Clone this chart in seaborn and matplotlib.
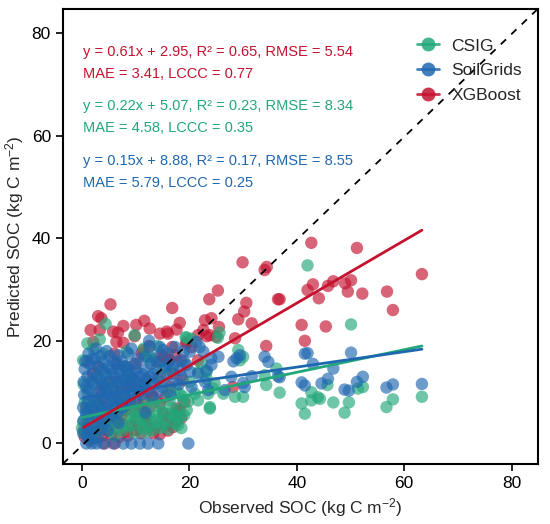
import numpy as np
import pandas as pd
import matplotlib
matplotlib.use("Agg")
import matplotlib.pyplot as plt
from matplotlib.lines import Line2D
import seaborn as sns

sns.set_style("ticks")
plt.rcParams["font.family"] = ["Liberation Sans", "DejaVu Sans"]
plt.rcParams["mathtext.fontset"] = "custom"
plt.rcParams["mathtext.rm"] = "Liberation Sans"
plt.rcParams["mathtext.it"] = "Liberation Sans:italic"

# colours per product
colors = {"CSIG": "#22a77a", "SoilGrids": "#1f68b0", "XGBoost": "#c4122f"}

# XGBoost predictions (observed, predicted)
xgb_obs = [0.5, 1.5, 2.7, 4.5, 6.4, 8.3, 10.1, 12.6, 15.7, 17.6, 7.0, 13.3, 1.5, 3.3, 12.0, 15.1,
           17.6, 19.1, 4.2, 6.1, 9.5, 11.4, 14.5, 18.2, 16.3, 2.0, 5.0, 7.5, 10.0, 0.8, 3.5, 6.5,
           9.0, 11.5, 13.0, 4.5, 5.8, 8.3, 10.5, 13.3, 16.4, 13.9, 15.4, 17.3, 8.3, 9.8, 8.9, 17.0,
           18.8, 16.3, 18.5, 14.8, 11.1, 2.0, 1.0, 3.0, 6.5, 2.1, 6.4, 9.8, 5.8, 5.3, 16.8, 3.0,
           3.6, 1.6, 3.3, 6.7, 7.7, 11.6, 18.2, 7.7, 11.4, 14.5, 15.8, 17.6, 10.1, 12.6, 16.0, 22.9,
           24.1, 22.6, 23.8, 19.5, 21.6, 16.8, 19.4, 29.9, 34.4, 34.0, 25.3, 23.7, 30.6, 36.5, 36.8, 30.2,
           29.1, 31.6, 25.5, 23.2, 25.0, 28.5, 34.3, 20.4, 21.6, 40.9, 41.5, 42.0, 28.1, 42.7, 51.2, 63.3,
           43.0, 45.8, 46.8, 49.0, 50.1, 49.5, 52.2, 44.1, 56.8, 57.9, 45.4,
           0.3, 1.0, 2.2, 3.0, 3.8, 5.5, 6.0, 7.5, 8.5, 9.3, 11.0, 11.8, 13.8, 14.5, 16.0, 17.0,
           18.5, 2.5, 4.5, 8.0, 10.5, 12.5, 15.5, 7.0, 12.0, 14.5, 3.5, 10.0, 6.0, 12.5]
xgb_pred = [1.3, 0.6, 2.0, 2.6, 3.0, 2.3, 2.6, 3.2, 3.6, 4.2, 1.3, 2.0, 3.2, 4.2, 5.2, 5.8,
            6.8, 8.1, 0.0, 0.0, 6.5, 6.5, 7.8, 6.5, 5.2, 5.5, 5.0, 5.5, 4.5, 7.0, 8.5, 9.0,
            8.0, 8.5, 9.5, 11.7, 12.0, 11.4, 10.4, 9.1, 11.0, 15.9, 16.9, 17.2, 14.3, 12.3, 11.7, 13.6,
            12.3, 16.2, 16.2, 17.2, 17.5, 13.5, 16.0, 15.0, 15.5, 19.8, 19.8, 20.9, 21.8, 27.1, 26.4, 24.8,
            24.4, 22.1, 22.1, 21.6, 22.9, 23.9, 23.5, 19.6, 18.2, 21.4, 21.8, 22.2, 23.1, 22.4, 21.4, 24.0,
            24.4, 22.1, 21.1, 19.8, 21.1, 18.8, 19.5, 35.3, 34.4, 33.8, 29.8, 28.1, 27.4, 28.1, 28.1, 25.7,
            24.2, 23.4, 22.7, 20.9, 20.8, 20.5, 19.0, 18.8, 16.2, 23.1, 20.0, 29.9, 11.0, 39.1, 38.1, 33.0,
            31.0, 30.7, 31.6, 31.2, 31.8, 29.6, 29.2, 28.3, 29.6, 26.0, 22.8,
            2.5, 4.5, 1.0, 3.0, 1.5, 1.8, 4.5, 3.8, 1.5, 3.5, 2.0, 4.0, 3.5, 1.8, 2.5, 3.2,
            5.0, 6.5, 7.0, 6.5, 7.5, 7.0, 9.0, 10.0, 12.5, 13.0, 10.5, 15.5, 17.5, 19.0]

# CSIG predictions
csig_obs = [0.0, 0.2, 1.5, 0.8, 1.5, 2.5, 3.3, 3.9, 5.2, 5.8, 7.0, 7.0, 8.3, 9.0, 10.1, 10.8,
            11.4, 12.0, 12.0, 12.6, 13.6, 13.9, 14.5, 14.5, 15.1, 15.1, 16.3, 16.4, 17.0, 17.6, 17.9, 17.9,
            18.2, 18.8, 19.5, 18.2, 19.8, 18.8, 0.2, 3.9, 8.3, 12.0, 12.6, 6.4, 5.2, 2.1, 3.3, 4.4,
            9.8, 13.0, 19.3, 1.0, 2.5, 4.0, 9.0, 11.0, 14.5, 16.0, 7.5, 0.5, 3.0, 10.0, 6.0, 1.0,
            14.0, 16.5, 20.1, 21.0, 21.6, 22.3, 23.2, 23.8, 24.7, 25.3, 25.6, 19.5, 20.4, 29.1, 30.0, 29.4,
            36.2, 34.3, 36.8, 21.6, 23.2, 24.4, 23.5, 28.5, 30.0, 23.8, 26.3, 40.9, 41.5, 42.0, 50.1, 34.0,
            42.7, 42.7, 43.9, 44.3, 45.7, 46.8, 48.9, 49.7, 51.4, 52.3, 56.7, 57.9, 63.3,
            0.5, 1.0, 2.0, 2.2, 3.0, 4.0, 4.5, 5.5, 6.0, 6.5, 7.5, 8.0, 8.5, 9.5, 9.8, 10.5,
            11.0, 11.8, 12.5, 13.0, 14.0, 15.5, 16.0, 16.8, 17.3, 18.5, 19.0, 2.0, 4.5, 8.0, 11.5, 15.0,
            17.5, 0.3, 13.5]
csig_pred = [3.0, 4.2, 4.9, 5.8, 1.6, 3.5, 5.5, 4.2, 2.6, 4.2, 3.0, 6.5, 5.2, 3.5, 4.9, 4.6,
             3.0, 4.9, 7.8, 3.3, 4.2, 4.6, 3.0, 7.1, 3.6, 6.1, 8.4, 5.8, 5.2, 5.2, 3.6, 6.5,
             9.7, 8.4, 6.5, 5.2, 8.2, 9.1, 16.2, 17.5, 17.9, 16.9, 16.9, 11.7, 9.7, 18.4, 20.3, 23.3,
             21.1, 16.2, 20.7, 10.0, 12.5, 14.0, 13.0, 10.5, 12.0, 10.0, 9.0, 8.0, 7.5, 7.0, 8.0, 19.5,
             19.0, 14.0, 12.0, 9.7, 8.4, 15.6, 14.0, 7.1, 11.7, 20.6, 21.6, 20.6, 20.4, 18.2, 16.9, 16.2,
             14.6, 11.4, 9.9, 13.9, 12.6, 10.7, 9.7, 9.1, 9.1, 6.8, 9.7, 7.8, 5.8, 34.7, 23.2, 13.3,
             10.0, 8.4, 9.0, 8.7, 11.4, 8.0, 6.0, 8.0, 10.7, 11.0, 7.1, 8.6, 9.1,
             2.0, 6.5, 1.0, 5.0, 2.5, 6.0, 3.5, 5.5, 1.5, 4.5, 2.5, 7.0, 3.5, 5.5, 2.0, 6.0,
             3.5, 2.2, 6.0, 2.5, 5.5, 4.5, 2.8, 7.0, 4.0, 3.0, 5.5, 8.5, 12.0, 15.0, 18.5, 14.5,
             10.5, 11.5, 8.0]

# SoilGrids predictions
sg_obs = [0.2, 0.3, 0.2, 0.4, 0.3, 0.5, 0.6, 1.0, 1.2, 1.1, 1.3, 1.0, 1.4, 1.2, 2.0, 2.2,
          2.0, 2.4, 2.1, 2.3, 2.6, 3.0, 3.2, 3.1, 3.4, 3.0, 3.5, 4.0, 4.2, 4.1, 4.4, 4.0,
          4.6, 5.0, 5.3, 5.1, 5.4, 5.2, 6.0, 6.2, 6.1, 6.4, 6.7, 7.0, 7.3, 7.1, 7.4, 8.0,
          8.2, 8.1, 8.4, 8.6, 9.0, 9.2, 9.1, 9.2, 10.0, 10.2, 10.1, 10.4, 11.0, 11.3, 11.7, 11.2,
          12.0, 12.6, 12.6, 12.5, 13.0, 13.6, 13.4, 14.0, 14.5, 14.3, 15.1, 15.8, 15.0, 16.0, 16.5, 17.0,
          17.3, 18.2, 18.0, 19.0, 19.5, 20.1, 20.4, 21.6, 20.1, 21.3, 21.9, 22.6, 22.9, 24.1, 25.4, 24.1,
          23.2, 27.8, 31.6, 30.0, 30.3, 26.6, 23.5, 28.8, 29.4, 28.2, 34.0, 34.7, 36.5, 40.9, 41.5, 41.5,
          42.0, 50.1, 43.0, 46.8, 36.8, 44.6, 45.8, 48.9, 49.7, 51.2, 52.3, 56.7, 57.9, 63.3, 1.8, 2.7,
          3.9, 5.8, 7.7, 9.2, 10.8, 12.3, 14.2, 19.8, 1.0, 0.8, 2.9, 4.8, 6.8, 11.8,
          0.7, 0.8, 1.6, 1.7, 1.8, 1.9, 2.8, 2.9, 2.7, 3.6, 3.8, 3.7, 3.9, 3.8, 4.7, 4.8,
          4.6, 4.9, 5.6, 5.7, 5.8, 5.6, 5.9, 6.6, 6.5, 6.8, 6.9, 7.6, 7.8, 7.7, 7.8, 8.6,
          8.8, 8.7, 9.5, 9.6, 9.7, 10.5, 10.7, 11.5, 11.6, 12.2, 12.8, 13.2, 13.8, 14.6, 15.5, 16.0,
          16.8, 17.8, 18.5, 19.0]
sg_pred = [2.0, 4.5, 7.0, 9.5, 12.0, 14.5, 16.0, 3.0, 5.5, 8.0, 10.5, 13.0, 15.5, 17.5, 2.5, 6.5,
           9.0, 11.5, 14.0, 16.5, 18.5, 4.0, 7.5, 10.0, 12.5, 15.0, 17.0, 5.5, 8.5, 11.0, 13.5, 16.0,
           18.0, 6.5, 9.5, 12.0, 14.5, 17.0, 7.0, 10.0, 13.0, 15.5, 17.2, 8.0, 11.0, 13.5, 16.0, 7.5,
           10.5, 12.5, 15.0, 17.5, 9.0, 11.5, 14.0, 18.5, 8.5, 12.0, 14.3, 16.5, 9.5, 11.0, 16.9, 13.5,
           10.5, 13.0, 18.8, 20.0, 9.0, 16.6, 11.5, 12.5, 18.8, 10.0, 18.2, 13.3, 11.0, 15.5, 9.5, 14.9,
           18.8, 14.3, 11.5, 16.0, 15.3, 14.0, 11.0, 13.6, 17.9, 19.8, 18.8, 17.9, 12.0, 16.6, 16.9, 15.3,
           14.3, 13.0, 13.1, 11.8, 11.0, 10.4, 10.4, 16.6, 17.2, 16.0, 16.9, 15.9, 13.1, 11.9, 11.3, 17.5,
           17.6, 17.7, 15.5, 14.6, 12.9, 11.7, 12.6, 10.5, 10.3, 12.0, 13.0, 10.9, 11.5, 11.6, 0.0, 0.0,
           0.0, 0.0, 0.0, 0.0, 0.0, 0.0, 0.0, 0.0, 1.5, 0.0, 1.2, 2.5, 4.0, 6.0,
           6.0, 11.0, 2.0, 7.0, 12.0, 16.5, 5.0, 8.5, 13.0, 3.0, 6.5, 9.5, 11.5, 14.5, 4.5, 7.5,
           10.0, 15.0, 5.5, 8.5, 11.0, 13.5, 16.0, 6.0, 8.5, 12.0, 14.5, 7.0, 9.5, 12.5, 15.0, 8.5,
           11.5, 13.5, 10.0, 12.5, 15.5, 10.0, 13.0, 11.5, 14.5, 12.0, 15.5, 13.5, 14.5, 16.0, 15.0, 17.5,
           12.0, 16.0, 13.0, 18.0]

# fitted lines and metrics as printed on the chart
fit_slope = {"XGBoost": 0.61, "CSIG": 0.22, "SoilGrids": 0.15}
fit_icpt = {"XGBoost": 2.95, "CSIG": 5.07, "SoilGrids": 8.88}
stats_lines = [
    ("XGBoost", "y = 0.61x + 2.95, R² = 0.65, RMSE = 5.54", "MAE = 3.41, LCCC = 0.77"),
    ("CSIG", "y = 0.22x + 5.07, R² = 0.23, RMSE = 8.34", "MAE = 4.58, LCCC = 0.35"),
    ("SoilGrids", "y = 0.15x + 8.88, R² = 0.17, RMSE = 8.55", "MAE = 5.79, LCCC = 0.25"),
]

df = pd.concat([
    pd.DataFrame({"obs": xgb_obs, "pred": xgb_pred, "model": "XGBoost"}),
    pd.DataFrame({"obs": csig_obs, "pred": csig_pred, "model": "CSIG"}),
    pd.DataFrame({"obs": sg_obs, "pred": sg_pred, "model": "SoilGrids"}),
], ignore_index=True)

fig = plt.figure(figsize=(5.5, 5.24), dpi=100)
ax = fig.add_axes([0.114, 0.1145, 0.864, 0.8687])

sns.scatterplot(data=df, x="obs", y="pred", hue="model", palette=colors,
                s=80, alpha=0.65, linewidth=0, legend=False, ax=ax, zorder=2)

ax.plot([-3.6, 84.9], [-4.0, 84.7], color="black", ls=(0, (4, 4)), lw=1.3, zorder=3)

for name in ["CSIG", "SoilGrids", "XGBoost"]:
    sub = df[df.model == name]
    xs = np.array([sub.obs.min(), sub.obs.max()])
    ax.plot(xs, fit_slope[name] * xs + fit_icpt[name], color=colors[name], lw=2, zorder=4)

ypos = [76.2, 71.9, 65.8, 61.5, 55.1, 50.8]
for i, (name, l1, l2) in enumerate(stats_lines):
    ax.text(0.2, ypos[2 * i], l1, color=colors[name], fontsize=10.5, va="center", ha="left")
    ax.text(0.2, ypos[2 * i + 1], l2, color=colors[name], fontsize=10.5, va="center", ha="left")

handles = [Line2D([0], [0], color=colors[n], lw=2, marker="o", markersize=10,
                  markerfacecolor=colors[n], markeredgewidth=0, alpha=0.85)
           for n in ["CSIG", "SoilGrids", "XGBoost"]]
ax.legend(handles, ["CSIG", "SoilGrids", "XGBoost"], loc="upper left",
          bbox_to_anchor=(0.745, 0.935), frameon=False, fontsize=12.5,
          handlelength=1.3, handletextpad=0.7, labelspacing=0.55, borderpad=0, borderaxespad=0)

ax.set_xlim(-3.6, 84.9)
ax.set_ylim(-4.0, 84.7)
ax.set_xticks([0, 20, 40, 60, 80])
ax.set_yticks([0, 20, 40, 60, 80])
ax.tick_params(axis="both", direction="out", length=5, width=1.2, labelsize=12.5, colors="black")
for sp in ax.spines.values():
    sp.set_visible(True)
    sp.set_linewidth(1.5)
    sp.set_color("black")

ax.set_xlabel(r"Observed SOC (kg C m$^{-2}$)", fontsize=12.5, labelpad=4)
ax.set_ylabel(r"Predicted SOC (kg C m$^{-2}$)", fontsize=12.5, labelpad=4)

fig.savefig("out.png", dpi=100)
